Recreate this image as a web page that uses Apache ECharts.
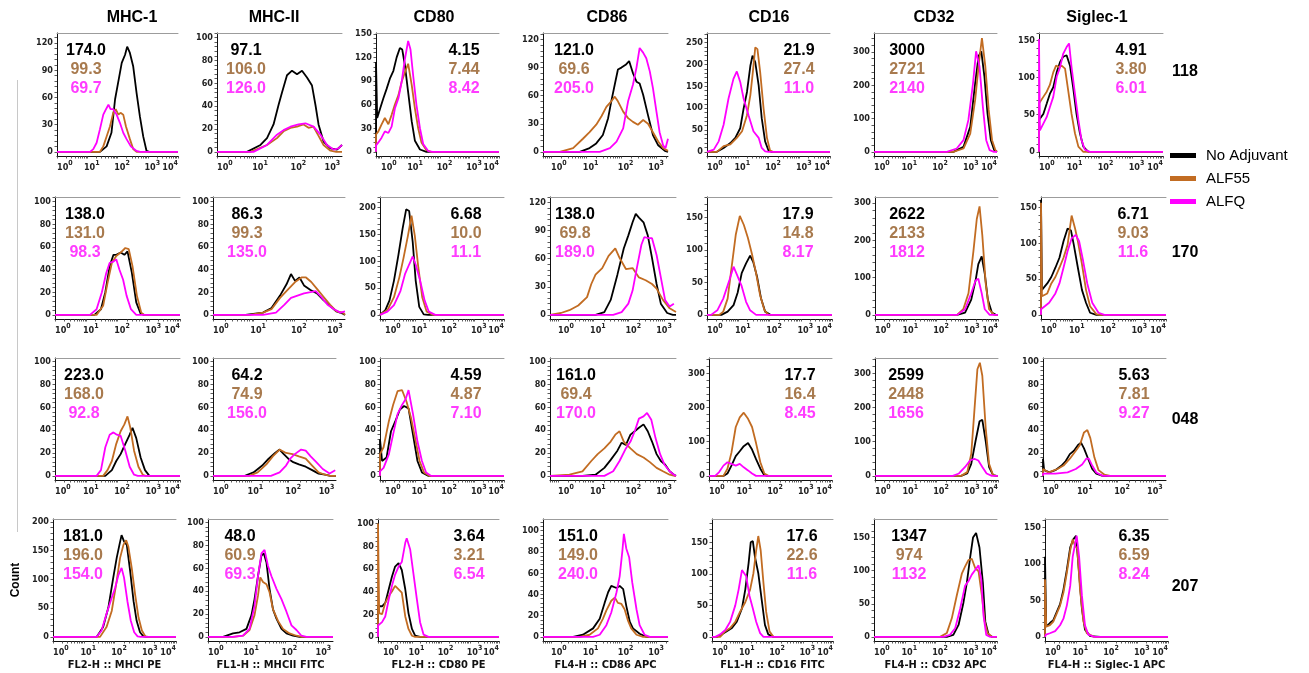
<!DOCTYPE html>
<html><head><meta charset="utf-8">
<script src="https://cdn.jsdelivr.net/npm/echarts@6/dist/echarts.min.js"></script>
<style>html,body{margin:0;padding:0;background:#fff}#c{width:1309px;height:673px}</style>
</head><body><div id="c"></div>
<script>
// ---------------- DATA ----------------
const markers = ['MHC-1','MHC-II','CD80','CD86','CD16','CD32','Siglec-1'];
const animals = ['118','170','048','207'];
const groups = ['No Adjuvant','ALF55','ALFQ'];
const channelTitles = ['FL2-H :: MHCI PE','FL1-H :: MHCII FITC','FL2-H :: CD80 PE','FL4-H :: CD86 APC','FL1-H :: CD16 FITC','FL4-H :: CD32 APC','FL4-H :: Siglec-1 APC'];

// MFI values printed in each panel (rows = animals, cols = markers)
const mfiNoAdj = [['174.0','97.1','4.15','121.0','21.9','3000','4.91'],['138.0','86.3','6.68','138.0','17.9','2622','6.71'],['223.0','64.2','4.59','161.0','17.7','2599','5.63'],['181.0','48.0','3.64','151.0','17.6','1347','6.35']];
const mfiALF55 = [['99.3','106.0','7.44','69.6','27.4','2721','3.80'],['131.0','99.3','10.0','69.8','14.8','2133','9.03'],['168.0','74.9','4.87','69.4','16.4','2448','7.81'],['196.0','60.9','3.21','149.0','22.6','974','6.59']];
const mfiALFQ = [['69.7','126.0','8.42','205.0','11.0','2140','6.01'],['98.3','135.0','11.1','189.0','8.17','1812','11.6'],['92.8','156.0','7.10','170.0','8.45','1656','9.27'],['154.0','69.3','6.54','240.0','11.6','1132','8.24']];

// x extent (log10 decades) per marker, y extent / tick step per panel
const xMinByCol = [0, 0, -0.17, -0.23, 0, 0, 0];
const xMaxByCol = [4, 3.25, 4, 3.34, 4, 4, 4];
const yMaxByRow = [[131,104,151,127,272,357,160],[104,104,220,126,181,316,165],[103,103,103,103,345,345,103],[205,103,104,111,187,178,162]];
const yStepByRow = [[30,20,30,30,50,100,50],[20,20,50,30,50,100,50],[20,20,20,20,100,100,20],[50,20,20,20,50,50,50]];

// histogram curves: [log10 intensity, count], one list per animal (118,170,048,207)
const mhc1Black = [
 [[1.42,0],[1.64,6],[1.8,21],[1.92,58],[2.03,78],[2.14,98],[2.25,107],[2.32,116],[2.41,109],[2.52,94],[2.63,65],[2.74,39],[2.85,17],[2.96,1],[3.05,0]],
 [[1.26,0],[1.47,5],[1.61,20],[1.75,43],[1.87,53],[1.96,53],[2.1,55],[2.22,53],[2.32,56],[2.46,37],[2.6,11],[2.74,1],[2.85,0]],
 [[1.61,0],[1.82,5],[1.96,13],[2.1,19],[2.25,28],[2.39,36],[2.48,42],[2.6,33],[2.74,16],[2.88,5],[3.02,0]],
 [[1.42,0],[1.63,17],[1.8,51],[1.96,103],[2.07,137],[2.16,160],[2.23,177],[2.31,166],[2.4,160],[2.51,114],[2.62,62],[2.72,28],[2.83,8],[2.94,1],[3.05,0]]];
const mhc1ALF55 = [
 [[1.42,0],[1.53,6],[1.64,17],[1.75,28],[1.86,43],[1.94,47],[2.03,41],[2.1,43],[2.19,41],[2.28,28],[2.41,14],[2.52,3],[2.63,0]],
 [[1.33,0],[1.54,8],[1.68,28],[1.82,46],[1.96,52],[2.1,55],[2.25,59],[2.36,58],[2.48,43],[2.62,17],[2.76,2],[2.86,0]],
 [[1.54,0],[1.68,5],[1.82,13],[1.96,28],[2.1,39],[2.22,45],[2.32,52],[2.41,42],[2.53,22],[2.67,8],[2.81,1],[2.9,0]],
 [[1.53,0],[1.74,17],[1.91,45],[2.07,97],[2.18,137],[2.29,160],[2.38,168],[2.45,157],[2.56,120],[2.67,74],[2.78,34],[2.89,11],[3.0,1],[3.1,0]]];
const mhc1ALFQ = [
 [[1.09,0],[1.2,3],[1.31,10],[1.42,25],[1.53,41],[1.62,47],[1.7,52],[1.77,47],[1.86,47],[1.97,41],[2.08,32],[2.19,21],[2.3,14],[2.44,6],[2.63,1],[2.75,0]],
 [[1.12,0],[1.33,5],[1.5,20],[1.64,37],[1.75,46],[1.87,47],[1.96,49],[2.06,40],[2.18,31],[2.29,17],[2.43,5],[2.6,0]],
 [[1.33,0],[1.47,5],[1.61,25],[1.75,36],[1.87,38],[1.98,36],[2.1,35],[2.25,22],[2.39,8],[2.53,1],[2.65,0]],
 [[1.42,0],[1.58,11],[1.74,40],[1.91,68],[2.02,85],[2.13,108],[2.23,120],[2.31,103],[2.42,62],[2.53,28],[2.64,8],[2.75,1],[2.85,0]]];

const mhc2Black = [
 [[0.78,0],[1.13,6],[1.3,12],[1.47,24],[1.6,41],[1.69,52],[1.82,67],[1.95,71],[2.08,68],[2.21,71],[2.34,65],[2.47,58],[2.56,41],[2.64,24],[2.77,9],[2.95,3],[3.12,2],[3.25,6]],
 [[0.8,0],[1.23,2],[1.44,6],[1.65,17],[1.81,27],[1.92,36],[2.02,30],[2.13,33],[2.24,26],[2.4,22],[2.56,19],[2.72,13],[2.88,8],[3.04,3],[3.2,1],[3.25,0]],
 [[0.84,0],[1.07,3],[1.3,9],[1.47,15],[1.64,20],[1.76,23],[1.87,19],[1.99,15],[2.12,12],[2.27,10],[2.45,8],[2.62,5],[2.79,2],[2.96,1],[3.1,0]],
 [[0.39,0],[0.65,3],[0.82,4],[1.0,7],[1.13,19],[1.21,33],[1.3,53],[1.39,71],[1.45,73],[1.52,65],[1.6,42],[1.69,24],[1.78,16],[1.91,7],[2.04,3],[2.21,1],[2.38,0]]];
const mhc2ALF55 = [
 [[0.87,0],[1.3,6],[1.56,12],[1.73,18],[1.91,21],[2.08,22],[2.25,24],[2.38,21],[2.51,22],[2.64,14],[2.77,6],[2.95,1],[3.1,0]],
 [[0.91,0],[1.23,2],[1.44,5],[1.65,15],[1.86,23],[2.02,29],[2.18,33],[2.29,33],[2.42,29],[2.56,23],[2.72,16],[2.88,9],[3.04,3],[3.2,2],[3.25,0]],
 [[0.95,0],[1.18,3],[1.41,10],[1.58,17],[1.76,23],[1.93,20],[2.1,19],[2.27,17],[2.45,15],[2.62,9],[2.79,3],[2.96,1],[3.1,0]],
 [[0.65,0],[0.91,1],[1.08,6],[1.21,19],[1.3,36],[1.36,52],[1.43,48],[1.52,46],[1.6,39],[1.69,24],[1.82,14],[1.95,7],[2.12,3],[2.3,1],[2.45,0]]];
const mhc2ALFQ = [
 [[0.95,0],[1.3,6],[1.56,15],[1.73,19],[1.91,22],[2.12,24],[2.3,25],[2.51,22],[2.69,15],[2.86,6],[3.03,2],[3.16,3],[3.25,6]],
 [[1.23,0],[1.55,2],[1.76,9],[1.92,15],[2.08,17],[2.24,19],[2.4,20],[2.53,21],[2.66,16],[2.82,9],[2.98,5],[3.14,2],[3.25,3]],
 [[1.53,0],[1.76,3],[1.93,9],[2.04,15],[2.16,19],[2.33,23],[2.45,22],[2.58,17],[2.73,12],[2.9,6],[3.08,2],[3.23,5]],
 [[0.65,0],[0.91,1],[1.08,7],[1.21,27],[1.3,53],[1.39,73],[1.47,76],[1.56,62],[1.65,53],[1.78,42],[1.91,33],[2.04,22],[2.17,10],[2.3,6],[2.43,1],[2.56,0]]];

const cd80Black = [
 [[-0.17,114],[-0.13,43],[-0.03,55],[0.08,68],[0.19,80],[0.3,93],[0.42,103],[0.53,120],[0.64,132],[0.72,130],[0.81,110],[0.92,76],[1.04,39],[1.15,14],[1.32,3],[1.54,0]],
 [[-0.15,3],[0.01,9],[0.15,27],[0.3,64],[0.45,112],[0.59,161],[0.71,197],[0.81,194],[0.93,136],[1.03,64],[1.15,15],[1.3,1],[1.45,0]],
 [[-0.17,32],[-0.1,13],[0.05,16],[0.2,39],[0.35,48],[0.5,58],[0.64,61],[0.79,59],[0.94,36],[1.09,13],[1.24,3],[1.46,0]],
 [[-0.17,27],[-0.03,27],[0.08,30],[0.2,42],[0.31,53],[0.42,62],[0.54,65],[0.65,59],[0.77,42],[0.88,21],[1.0,7],[1.11,1],[1.28,0]]];
const cd80ALF55 = [
 [[-0.17,22],[-0.09,26],[0.02,35],[0.13,43],[0.25,35],[0.36,47],[0.47,60],[0.59,72],[0.7,89],[0.81,101],[0.92,112],[1.04,85],[1.15,55],[1.26,30],[1.37,12],[1.54,2],[1.7,0]],
 [[-0.15,3],[0.08,9],[0.3,33],[0.48,70],[0.62,106],[0.77,148],[0.89,185],[1.0,148],[1.12,88],[1.25,33],[1.4,6],[1.62,0]],
 [[-0.17,19],[-0.05,25],[0.13,48],[0.27,62],[0.42,74],[0.57,75],[0.72,65],[0.87,51],[1.01,33],[1.16,13],[1.31,3],[1.5,0]],
 [[-0.17,100],[-0.13,21],[-0.03,20],[0.08,30],[0.2,36],[0.31,40],[0.42,45],[0.54,42],[0.65,39],[0.77,18],[0.88,7],[1.0,1],[1.11,0]]];
const cd80ALFQ = [
 [[-0.17,8],[-0.09,12],[0.02,18],[0.13,26],[0.25,24],[0.36,32],[0.47,55],[0.59,68],[0.7,89],[0.81,118],[0.92,141],[1.0,130],[1.09,97],[1.2,60],[1.32,30],[1.43,10],[1.6,1],[1.75,0]],
 [[-0.15,3],[0.08,6],[0.3,18],[0.52,45],[0.67,76],[0.81,94],[0.93,109],[1.03,94],[1.18,64],[1.33,27],[1.47,6],[1.69,0]],
 [[-0.17,4],[-0.05,7],[0.13,19],[0.27,36],[0.42,54],[0.57,62],[0.69,67],[0.79,75],[0.94,54],[1.09,30],[1.24,13],[1.38,3],[1.55,0]],
 [[-0.17,10],[-0.03,13],[0.08,18],[0.2,33],[0.31,45],[0.42,55],[0.54,62],[0.65,66],[0.77,83],[0.82,87],[0.94,77],[1.05,56],[1.17,33],[1.28,13],[1.4,2],[1.57,0]]];

const cd86Black = [
 [[0.82,0],[1.1,4],[1.29,9],[1.48,18],[1.63,36],[1.72,54],[1.82,72],[1.91,88],[2.01,90],[2.13,93],[2.23,97],[2.34,84],[2.44,75],[2.53,73],[2.63,61],[2.77,39],[2.91,18],[3.06,7],[3.25,1],[3.34,0]],
 [[1.06,0],[1.31,3],[1.49,16],[1.68,43],[1.86,71],[1.99,85],[2.11,99],[2.2,108],[2.29,104],[2.42,99],[2.54,85],[2.66,61],[2.79,33],[2.91,12],[3.09,2],[3.25,0]],
 [[0.69,0],[1.06,1],[1.31,7],[1.49,14],[1.68,22],[1.8,29],[1.92,27],[2.05,36],[2.17,39],[2.29,42],[2.42,45],[2.54,39],[2.66,30],[2.79,19],[2.91,13],[3.03,10],[3.16,4],[3.28,1],[3.34,0]],
 [[0.63,0],[0.91,2],[1.2,8],[1.39,17],[1.53,32],[1.63,42],[1.72,48],[1.87,46],[1.96,48],[2.06,45],[2.15,29],[2.25,14],[2.34,8],[2.53,3],[2.72,0]]];
const cd86ALF55 = [
 [[0.0,0],[0.25,0],[0.63,4],[0.91,14],[1.1,21],[1.29,29],[1.44,38],[1.58,48],[1.72,54],[1.82,59],[1.91,54],[2.06,43],[2.2,36],[2.34,32],[2.48,29],[2.63,34],[2.77,30],[2.91,21],[3.06,11],[3.2,4],[3.34,1]],
 [[-0.23,0],[0.08,2],[0.32,5],[0.57,10],[0.82,19],[0.94,33],[1.06,43],[1.25,50],[1.43,63],[1.62,71],[1.74,61],[1.92,49],[2.11,50],[2.29,40],[2.48,37],[2.66,33],[2.79,28],[2.97,16],[3.16,7],[3.34,3]],
 [[-0.23,0],[0.32,1],[0.69,4],[0.94,13],[1.12,19],[1.31,24],[1.49,30],[1.62,36],[1.74,39],[1.86,30],[2.05,24],[2.23,19],[2.42,16],[2.6,12],[2.79,7],[2.97,4],[3.16,1],[3.3,0]],
 [[0.82,0],[1.1,2],[1.34,8],[1.48,17],[1.58,25],[1.72,34],[1.82,37],[1.91,32],[2.01,31],[2.1,26],[2.2,15],[2.29,8],[2.44,2],[2.63,0]]];
const cd86ALFQ = [
 [[1.39,0],[1.68,4],[1.87,11],[2.06,25],[2.2,54],[2.34,72],[2.44,90],[2.53,111],[2.63,106],[2.72,100],[2.82,86],[2.91,68],[3.01,43],[3.1,21],[3.2,7],[3.27,4],[3.34,14]],
 [[1.56,0],[1.8,3],[1.99,12],[2.11,26],[2.23,50],[2.36,75],[2.44,83],[2.56,82],[2.66,82],[2.79,64],[2.91,40],[3.03,16],[3.16,9],[3.28,12]],
 [[1.31,0],[1.56,4],[1.74,13],[1.92,24],[2.05,30],[2.17,39],[2.29,50],[2.42,52],[2.52,55],[2.64,49],[2.76,33],[2.89,19],[3.01,10],[3.16,4],[3.28,1],[3.34,0]],
 [[1.2,0],[1.39,2],[1.58,11],[1.72,23],[1.87,42],[1.96,57],[2.04,82],[2.08,97],[2.15,83],[2.23,75],[2.32,51],[2.44,26],[2.53,11],[2.67,2],[2.82,0]]];

const cd16Black = [
 [[0.32,0],[0.54,9],[0.76,20],[0.92,32],[1.08,54],[1.19,99],[1.3,137],[1.41,197],[1.48,220],[1.57,205],[1.68,152],[1.78,77],[1.89,24],[2.0,3],[2.1,0]],
 [[0.46,0],[0.66,5],[0.85,15],[0.98,34],[1.11,64],[1.25,79],[1.38,91],[1.48,81],[1.6,59],[1.73,25],[1.86,5],[2.03,0]],
 [[0.47,0],[0.6,7],[0.73,30],[0.87,58],[1.0,72],[1.13,87],[1.27,96],[1.4,77],[1.53,49],[1.67,21],[1.8,2],[1.9,0]],
 [[0.16,0],[0.33,4],[0.49,9],[0.66,14],[0.82,24],[0.99,45],[1.1,75],[1.21,117],[1.28,150],[1.35,152],[1.42,127],[1.53,101],[1.64,60],[1.75,19],[1.86,4],[2.03,0]]];
const cd16ALF55 = [
 [[0.32,0],[0.54,13],[0.76,17],[0.97,32],[1.14,47],[1.3,84],[1.41,130],[1.49,182],[1.57,239],[1.64,235],[1.73,182],[1.84,99],[1.95,32],[2.05,3],[2.15,0]],
 [[0.39,0],[0.52,5],[0.66,25],[0.79,74],[0.92,123],[1.05,152],[1.18,138],[1.31,118],[1.44,93],[1.57,64],[1.7,30],[1.84,7],[1.97,0]],
 [[0.47,0],[0.6,21],[0.73,68],[0.87,143],[1.0,171],[1.13,185],[1.27,167],[1.4,143],[1.53,96],[1.67,40],[1.8,7],[1.93,0]],
 [[0.27,0],[0.44,9],[0.6,14],[0.77,24],[0.93,40],[1.1,55],[1.26,75],[1.37,101],[1.46,137],[1.53,160],[1.61,137],[1.7,86],[1.79,40],[1.9,9],[2.03,0]]];
const cd16ALFQ = [
 [[0.05,0],[0.22,5],[0.38,24],[0.54,62],[0.7,122],[0.86,167],[0.97,184],[1.08,160],[1.19,122],[1.35,84],[1.51,47],[1.68,32],[1.78,9],[1.89,1],[2.0,0]],
 [[0.13,0],[0.33,7],[0.52,25],[0.72,54],[0.85,74],[0.98,59],[1.11,44],[1.25,20],[1.38,7],[1.57,0]],
 [[0.2,0],[0.33,11],[0.47,30],[0.6,40],[0.73,35],[0.87,30],[1.0,35],[1.13,25],[1.27,16],[1.4,7],[1.53,0]],
 [[0.11,0],[0.27,4],[0.44,11],[0.6,24],[0.77,50],[0.88,75],[0.99,106],[1.04,109],[1.13,96],[1.24,65],[1.35,45],[1.46,24],[1.59,6],[1.7,0]]];

const cd32Black = [
 [[2.58,0],[2.91,15],[3.13,75],[3.29,206],[3.4,287],[3.49,302],[3.59,227],[3.69,116],[3.8,35],[3.91,5],[4.0,0]],
 [[2.67,0],[2.93,6],[3.13,41],[3.27,92],[3.36,136],[3.47,157],[3.57,110],[3.67,41],[3.8,6],[3.93,0]],
 [[2.8,0],[3.0,7],[3.13,35],[3.27,102],[3.4,160],[3.49,164],[3.6,102],[3.71,26],[3.84,2],[3.95,0]],
 [[2.37,0],[2.58,3],[2.75,18],[2.91,52],[3.02,82],[3.13,121],[3.22,150],[3.32,157],[3.43,135],[3.54,82],[3.62,23],[3.73,3],[3.84,0]]];
const cd32ALF55 = [
 [[2.58,0],[2.91,10],[3.13,55],[3.29,156],[3.4,257],[3.51,342],[3.62,257],[3.73,126],[3.84,35],[3.95,5],[4.0,0]],
 [[2.67,0],[2.87,15],[3.04,58],[3.2,170],[3.31,257],[3.4,291],[3.49,213],[3.6,84],[3.71,15],[3.87,0]],
 [[2.8,0],[3.0,11],[3.13,64],[3.23,188],[3.33,312],[3.41,331],[3.49,293],[3.6,140],[3.71,35],[3.84,2],[3.95,0]],
 [[2.15,0],[2.37,6],[2.53,28],[2.69,62],[2.86,96],[2.96,106],[3.07,116],[3.18,118],[3.29,104],[3.4,99],[3.51,62],[3.6,23],[3.69,6],[3.84,0]]];
const cd32ALFQ = [
 [[2.37,0],[2.69,10],[2.91,35],[3.07,96],[3.22,206],[3.32,302],[3.43,257],[3.54,136],[3.65,35],[3.76,5],[3.9,0]],
 [[2.67,0],[2.93,15],[3.13,58],[3.27,92],[3.36,97],[3.47,58],[3.57,15],[3.73,0]],
 [[2.53,0],[2.73,7],[2.93,26],[3.09,45],[3.23,50],[3.36,45],[3.49,26],[3.63,7],[3.8,0]],
 [[2.26,0],[2.47,3],[2.64,13],[2.8,42],[2.96,77],[3.07,84],[3.18,94],[3.29,101],[3.4,108],[3.49,86],[3.56,33],[3.65,3],[3.78,0]]];

const siglecBlack = [
 [[0,43],[0.14,51],[0.25,65],[0.35,78],[0.46,87],[0.57,107],[0.68,121],[0.78,128],[0.89,130],[1.0,116],[1.1,87],[1.21,51],[1.32,25],[1.43,7],[1.59,0]],
 [[0,161],[0.03,35],[0.2,44],[0.33,53],[0.46,66],[0.59,80],[0.72,103],[0.85,121],[0.96,118],[1.05,98],[1.18,66],[1.31,35],[1.44,17],[1.57,3],[1.77,0]],
 [[0,15],[0.03,5],[0.17,3],[0.33,5],[0.5,9],[0.61,13],[0.72,19],[0.83,22],[0.94,27],[1.02,29],[1.1,24],[1.21,15],[1.32,6],[1.43,2],[1.6,0]],
 [[0,110],[0.04,14],[0.16,19],[0.27,23],[0.38,34],[0.49,45],[0.6,65],[0.71,92],[0.82,123],[0.92,134],[1.01,139],[1.09,97],[1.2,39],[1.3,10],[1.47,1],[1.8,0]]];
const siglecALF55 = [
 [[0,65],[0.14,74],[0.25,81],[0.35,90],[0.46,107],[0.55,116],[0.65,114],[0.73,116],[0.84,112],[0.94,83],[1.05,51],[1.16,25],[1.27,7],[1.43,0]],
 [[0,157],[0.03,26],[0.2,30],[0.33,44],[0.46,53],[0.59,66],[0.72,80],[0.85,98],[0.98,139],[1.09,121],[1.18,103],[1.31,71],[1.44,35],[1.57,12],[1.77,1],[1.9,0]],
 [[0,6],[0.15,3],[0.39,6],[0.55,9],[0.72,15],[0.88,22],[0.99,27],[1.1,38],[1.19,40],[1.27,33],[1.38,16],[1.49,5],[1.65,1],[1.8,0]],
 [[0,79],[0.04,14],[0.16,16],[0.27,21],[0.38,32],[0.49,43],[0.6,61],[0.71,88],[0.82,119],[0.9,134],[0.98,125],[1.05,121],[1.14,65],[1.25,21],[1.36,5],[1.6,0]]];
const siglecALFQ = [
 [[0,152],[0.03,29],[0.14,38],[0.25,47],[0.35,60],[0.46,74],[0.57,101],[0.68,114],[0.78,132],[0.89,141],[0.97,146],[1.05,114],[1.16,78],[1.27,43],[1.37,16],[1.48,3],[1.64,0]],
 [[0,8],[0.12,12],[0.26,17],[0.46,30],[0.59,44],[0.72,66],[0.85,89],[0.98,107],[1.11,112],[1.22,103],[1.35,75],[1.48,44],[1.64,17],[1.84,3],[2.03,0]],
 [[0,2],[0.33,2],[0.66,3],[0.88,6],[1.05,10],[1.16,15],[1.23,15],[1.32,9],[1.43,3],[1.6,0]],
 [[0.03,3],[0.16,5],[0.33,8],[0.49,16],[0.6,25],[0.71,43],[0.82,70],[0.9,110],[0.98,128],[1.03,139],[1.11,110],[1.2,57],[1.3,16],[1.41,3],[1.6,0]]];

// ---------------- LAYOUT / STYLE ----------------
const rowTop = [33, 197, 358, 519];
const rowBottom = [156, 319, 480, 641];
const panelLeft = [[57,217,376,543,707,874,1039],[55,213,380,550,707,875,1041],[55,213,380,550,709,875,1043],[53,208,378,543,712,874,1045]];
const panelRight = [[178,342,499,668,830,997,1163],[180,345,504,676,832,998,1166],[180,336,504,676,832,998,1166],[176,333,499,668,833,997,1168]];
const mfiX = [[86,246,464,574,799,907,1131],[85,247,466,575,798,907,1133],[84,247,466,576,800,906,1134],[83,240,469,578,802,909,1134]];
const titleX = [132,274,434,607,769,934,1097];
const lineColors = ['#000000','#c26c22','#ff00ff'];
const textColors = ['#000000','#a87a4e','#ff3cff'];
const tickFont = '"DejaVu Sans Condensed", "DejaVu Sans", sans-serif';
const textFont = '"Liberation Sans", Arial, sans-serif';

const curvesByCol = [
  [mhc1Black, mhc1ALF55, mhc1ALFQ], [mhc2Black, mhc2ALF55, mhc2ALFQ],
  [cd80Black, cd80ALF55, cd80ALFQ], [cd86Black, cd86ALF55, cd86ALFQ],
  [cd16Black, cd16ALF55, cd16ALFQ], [cd32Black, cd32ALF55, cd32ALFQ],
  [siglecBlack, siglecALF55, siglecALFQ]];
const mfiByGroup = [mfiNoAdj, mfiALF55, mfiALFQ];

// ---------------- BUILD ----------------
const grids = [], xAxes = [], yAxes = [], series = [], graphics = [];
function xExtent(r, c) {
  let mx = xMaxByCol[c];
  if (r === 2 && c === 6) mx = 3.3;
  return [xMinByCol[c], mx];
}
const tickRich = {
  a: {fontSize: 9, fontWeight: 'bold', fontFamily: tickFont, color: '#222', lineHeight: 12, verticalAlign: 'bottom'},
  p: {fontSize: 9, fontWeight: 'bold', fontFamily: tickFont, color: '#222', lineHeight: 12, verticalAlign: 'bottom', padding: [0, 0, 0, 9]},
  b: {fontSize: 7, fontWeight: 'bold', fontFamily: tickFont, color: '#222', lineHeight: 8, verticalAlign: 'top'}
};
for (let r = 0; r < 4; r++) {
  for (let c = 0; c < 7; c++) {
    const idx = r * 7 + c;
    const L = panelLeft[r][c], R = panelRight[r][c], T = rowTop[r], B = rowBottom[r];
    grids.push({left: L, top: T, width: R - L, height: B - T, containLabel: false});
    const [xmin, xmax] = xExtent(r, c);
    const majors = [], minors = [];
    for (let d = Math.ceil(xmin); d <= Math.floor(xmax + 1e-9); d++) majors.push(d);
    for (let d = Math.floor(xmin); d <= xmax; d++) {
      for (let k = 1; k <= 9; k++) {
        const v = d + Math.log10(k);
        if (v >= xmin && v <= xmax + 1e-9) minors.push(v);
      }
    }
    const intMax = Math.abs(xmax - Math.round(xmax)) < 1e-6;
    const firstMajor = majors[0], lastMajor = majors[majors.length - 1];
    xAxes.push({
      gridIndex: idx, type: 'value', min: xmin, max: xmax, position: 'bottom',
      axisLine: {show: true, onZero: false, lineStyle: {color: '#111', width: 1}},
      axisTick: {show: true, customValues: minors, length: 2.5, lineStyle: {color: '#333', width: 0.8}},
      axisLabel: {
        show: true, customValues: majors, margin: 4, align: 'center',
        showMinLabel: true, showMaxLabel: true, hideOverlap: false,
        alignMinLabel: 'left', alignMaxLabel: intMax ? 'right' : 'center',
        formatter: v => {
          const n = Math.round(v);
          const pad = (n !== firstMajor && n !== lastMajor);
          return (pad ? '{p|10}' : '{a|10}') + '{b|' + n + '}';
        },
        rich: tickRich
      },
      splitLine: {show: false}
    });
    xAxes.push({
      gridIndex: idx, type: 'value', min: xmin, max: xmax, position: 'top',
      axisLine: {show: true, onZero: false, lineStyle: {color: '#9c9c9c', width: 1}},
      axisTick: {show: false}, axisLabel: {show: false}, splitLine: {show: false}
    });
    const ymax = yMaxByRow[r][c], step = yStepByRow[r][c];
    const ymin = -0.035 * ymax;
    const yMajor = [], yMinor = [];
    for (let v = 0; v <= ymax; v += step) yMajor.push(v);
    for (let v = 0; v <= ymax; v += step / 5) yMinor.push(v);
    yAxes.push({
      gridIndex: idx, type: 'value', min: ymin, max: ymax,
      axisLine: {show: true, onZero: false, lineStyle: {color: '#111', width: 1}},
      axisTick: {show: true, customValues: yMinor, length: 2.5, lineStyle: {color: '#333', width: 0.8}},
      axisLabel: {show: true, customValues: yMajor, margin: 4, fontSize: 9, fontWeight: 'bold', fontFamily: tickFont, color: '#222', showMinLabel: true, showMaxLabel: true},
      splitLine: {show: false}
    });
    for (let g = 0; g < 3; g++) {
      const pts = curvesByCol[c][g][r];
      const data = [[xmin, 0]].concat(pts);
      const last = pts[pts.length - 1];
      if (last[1] === 0 && last[0] < xmax) data.push([xmax, 0]);
      series.push({
        type: 'line', name: groups[g], xAxisIndex: idx * 2, yAxisIndex: idx,
        data: data, showSymbol: false, symbol: 'none', smooth: false, clip: true,
        color: lineColors[g], itemStyle: {color: lineColors[g]},
        lineStyle: {color: lineColors[g], width: 1.8}, z: 2 + g, silent: true, animation: false
      });
      graphics.push({
        type: 'text', x: mfiX[r][c], y: T + 17.5 + g * 19, z: 50,
        style: {text: mfiByGroup[g][r][c], font: 'bold 16px ' + textFont, fill: textColors[g], align: 'center', verticalAlign: 'middle'}
      });
    }
  }
}
// column titles and channel names
for (let c = 0; c < 7; c++) {
  graphics.push({type: 'text', x: titleX[c], y: 18, style: {text: markers[c], font: 'bold 16px ' + textFont, fill: '#000', align: 'center', verticalAlign: 'middle'}});
  const cx = (panelLeft[3][c] + panelRight[3][c]) / 2;
  graphics.push({type: 'text', x: cx, y: 665, style: {text: channelTitles[c], font: 'bold 11px ' + tickFont, fill: '#111', align: 'center', verticalAlign: 'middle'}});
}
// row labels
const rowLabelY = [72, 253, 420, 587];
for (let r = 0; r < 4; r++) {
  graphics.push({type: 'text', x: 1185, y: rowLabelY[r], style: {text: animals[r], font: 'bold 16px ' + textFont, fill: '#000', align: 'center', verticalAlign: 'middle'}});
}
graphics.push({type: 'text', x: 16, y: 580, rotation: Math.PI / 2, style: {text: 'Count', font: 'bold 12px ' + textFont, fill: '#000', align: 'center', verticalAlign: 'middle'}});
graphics.push({type: 'line', shape: {x1: 17.5, y1: 80, x2: 17.5, y2: 532}, style: {stroke: '#c8c8c8', lineWidth: 1}});

const chart = echarts.init(document.getElementById('c'), null, {renderer: 'canvas'});
chart.setOption({
  animation: false,
  backgroundColor: '#ffffff',
  grid: grids, xAxis: xAxes, yAxis: yAxes, series: series,
  legend: {
    data: groups, orient: 'vertical', left: 1170, top: 148, padding: 0, icon: 'rect',
    itemWidth: 26, itemHeight: 5, itemGap: 8, selectedMode: false,
    textStyle: {fontSize: 15, color: '#000', fontFamily: textFont, padding: [0, 0, 0, 5]}
  },
  graphic: graphics
});
</script></body></html>
